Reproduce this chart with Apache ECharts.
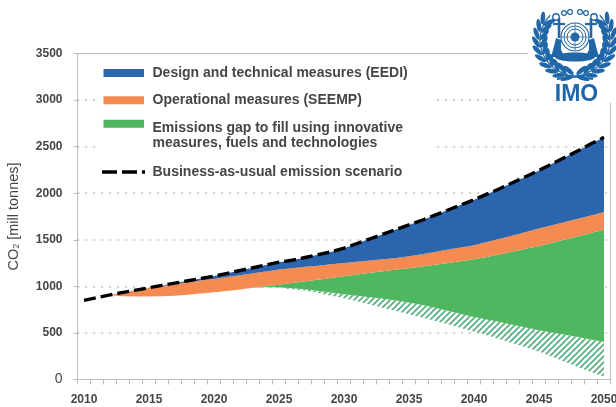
<!DOCTYPE html>
<html>
<head>
<meta charset="utf-8">
<style>html,body{margin:0;padding:0;background:#fff}#c{width:616px;height:407px}</style>
<script src="https://cdn.jsdelivr.net/npm/echarts@6/dist/echarts.min.js"></script>
</head>
<body>
<div id="c"></div>
<script>
const years = [];
for (let y = 2010; y <= 2050; y++) years.push(String(y));
const yTicks = [0, 500, 1000, 1500, 2000, 2500, 3000, 3500];

const bauTop = [850,880,908,935,960,985,1010,1035,1060,1085,1110,1140,1170,1200,1230,1260,1280,1310,1340,1370,1410,1460,1510,1560,1610,1660,1710,1765,1820,1875,1930,1990,2050,2115,2180,2245,2315,2385,2455,2530,2600];
const seempTop = [850,880,905,932,957,982,1005,1025,1045,1062,1080,1100,1120,1140,1160,1180,1195,1210,1222,1237,1252,1265,1277,1290,1305,1323,1345,1370,1395,1418,1442,1475,1510,1545,1583,1622,1656,1690,1725,1762,1798];
const gapTop = [850,880,905,895,890,890,893,900,910,922,937,950,967,985,1000,1016,1035,1055,1072,1090,1109,1127,1145,1163,1180,1195,1213,1232,1252,1270,1290,1316,1345,1375,1404,1434,1468,1502,1537,1573,1610];
const gapBottom = [850,880,905,895,890,890,893,900,910,922,937,950,967,985,990,990,980,968,950,933,915,898,882,866,848,826,800,770,737,704,672,644,616,587,558,530,505,480,455,430,404];
const hatchBottom = [850,880,905,895,890,890,893,900,910,922,937,950,967,985,990,985,970,955,930,900,872,840,805,770,735,700,665,630,592,553,515,475,433,390,345,300,245,190,135,80,30];

const legendDesign = 'Design and technical measures (EEDI)';
const legendOperational = 'Operational measures (SEEMP)';
const legendGap = 'Emissions gap to fill using innovative\nmeasures, fuels and technologies';
const legendBau = 'Business-as-usual emission scenario';

const BLUE = '#2a65ae', ORANGE = '#f68b52', GREEN = '#4eb75f', TEXT = '#454545', AXIS = '#bdbdbd', LOGO = '#1f67a9';
const FONT = '"Liberation Sans", Arial, sans-serif';

// hatch tile
const tile = document.createElement('canvas');
tile.width = 6; tile.height = 6;
const t = tile.getContext('2d');
t.strokeStyle = '#58ad7f'; t.lineWidth = 1.7;
[[-3,3,3,-3],[0,6,6,0],[3,9,9,3]].forEach(l => { t.beginPath(); t.moveTo(l[0],l[1]); t.lineTo(l[2],l[3]); t.stroke(); });

const diff = (a, b) => a.map((v, i) => v - b[i]);
function band(name, data, color) {
  return { name, type: 'line', stack: 'co2', data, symbol: 'none', silent: true,
    lineStyle: { width: 0 }, areaStyle: { color, opacity: 1 } };
}

// logo drawing
const logo = [];
const Z = 12;
const cx = 575, cy = 37;
const wy = 40;
[-1, 1].forEach(side => {
  for (let i = 0; i < 10; i++) {
    const deg = 102 + i * 12.5;
    const a = deg * Math.PI / 180;
    [[31, 120], [39, 60]].forEach(([r, dir]) => {
      const px = side < 0 ? cx + r * Math.cos(a) : cx - r * Math.cos(a);
      const py = wy + r * Math.sin(a);
      const d = (deg + dir) * Math.PI / 180;
      const rot = side < 0 ? -d : d;
      logo.push({ type: 'ellipse', z: Z, x: px, y: py, rotation: rot, shape: { cx: 0, cy: 0, rx: 6.5, ry: 2.3 }, style: { fill: LOGO } });
    });
  }
  logo.push({ type: 'arc', z: Z, shape: { cx, cy: wy, r: 35,
    startAngle: side < 0 ? 102 * Math.PI / 180 : -(45) * Math.PI / 180,
    endAngle: side < 0 ? 225 * Math.PI / 180 : 78 * Math.PI / 180 }, style: { stroke: LOGO, lineWidth: 1.2, fill: 'none' } });
});
// circle seal
logo.push({ type: 'circle', z: Z, shape: { cx, cy, r: 14 }, style: { fill: '#fff', stroke: LOGO, lineWidth: 1.2 } });
logo.push({ type: 'circle', z: Z, shape: { cx, cy, r: 11 }, style: { fill: 'none', stroke: LOGO, lineWidth: 1 } });
logo.push({ type: 'circle', z: Z, shape: { cx, cy, r: 8 }, style: { fill: 'none', stroke: LOGO, lineWidth: 1 } });
logo.push({ type: 'circle', z: Z, shape: { cx, cy, r: 4.5 }, style: { fill: LOGO } });
logo.push({ type: 'line', z: Z, shape: { x1: cx - 14, y1: cy, x2: cx + 14, y2: cy }, style: { stroke: LOGO, lineWidth: 0.7 } });
logo.push({ type: 'line', z: Z, shape: { x1: cx, y1: cy - 14, x2: cx, y2: cy + 14 }, style: { stroke: LOGO, lineWidth: 0.7 } });
// anchors
[-1, 1].forEach(s => {
  logo.push({ type: 'polygon', z: Z, shape: { points: [[cx+s*14,cy+3],[cx+s*19,cy+1],[cx+s*22,cy+13],[cx+s*24,cy+20],[cx+s*10,cy+20],[cx+s*14,cy+13]] }, style: { fill: LOGO } });
  logo.push({ type: 'line', z: Z, shape: { x1: cx+s*16, y1: cy-19, x2: cx+s*16, y2: cy+1 }, style: { stroke: LOGO, lineWidth: 2.6 } });
  logo.push({ type: 'line', z: Z, shape: { x1: cx+s*10, y1: cy-13, x2: cx+s*22, y2: cy-13 }, style: { stroke: LOGO, lineWidth: 2.2 } });
  logo.push({ type: 'circle', z: Z, shape: { cx: cx+s*19, cy: cy-20, r: 3.2 }, style: { fill: '#fff', stroke: LOGO, lineWidth: 1.4 } });
  logo.push({ type: 'circle', z: Z, shape: { cx: cx+s*11, cy: cy-24, r: 2.4 }, style: { fill: '#fff', stroke: LOGO, lineWidth: 1.2 } });
  logo.push({ type: 'circle', z: Z, shape: { cx: cx+s*5, cy: cy-25, r: 2.4 }, style: { fill: '#fff', stroke: LOGO, lineWidth: 1.2 } });
});
logo.push({ type: 'ellipse', z: Z, shape: { cx, cy: cy+20, rx: 20, ry: 4.5 }, style: { fill: LOGO } });
// ribbon
logo.push({ type: 'line', z: Z, shape: { x1: cx-18, y1: cy+42, x2: cx+18, y2: cy+37 }, style: { stroke: LOGO, lineWidth: 1.8 } });
logo.push({ type: 'line', z: Z, shape: { x1: cx-18, y1: cy+37, x2: cx+18, y2: cy+42 }, style: { stroke: LOGO, lineWidth: 1.8 } });

function swatch(y, fill) {
  return { type: 'rect', z: 5, shape: { x: 103.5, y, width: 40.5, height: 8 }, style: { fill } };
}
function ltext(y, text) {
  return { type: 'text', z: 6, x: 152.5, y, style: { text, fill: TEXT, font: 'bold 14px ' + FONT, lineHeight: 15, verticalAlign: 'top' } };
}

const chart = echarts.init(document.getElementById('c'), null, { renderer: 'canvas' });
chart.setOption({
  animation: false,
  backgroundColor: '#fff',
  grid: { left: 77.5, top: 53.5, width: 533, height: 326, show: true, outerBoundsMode: 'none', containLabel: false, borderColor: AXIS, borderWidth: 1, backgroundColor: 'transparent' },
  xAxis: {
    type: 'category', data: years, boundaryGap: true,
    axisLine: { lineStyle: { color: AXIS, width: 1 } },
    axisTick: { show: true, length: 5, interval: 0, alignWithLabel: false, lineStyle: { color: AXIS } },
    axisLabel: { interval: 4, margin: 14, color: TEXT, fontFamily: FONT, fontWeight: 'bold', fontSize: 12, hideOverlap: false, showMaxLabel: true },
    splitLine: { show: false }
  },
  yAxis: {
    type: 'value', min: 0, max: 3500, interval: 500,
    name: '{n|CO}{s|2}{n| [mill tonnes]}', nameLocation: 'middle', nameGap: 56, nameRotate: 90,
    nameTextStyle: { rich: {
      n: { fontFamily: FONT, fontSize: 14.5, color: TEXT },
      s: { fontFamily: FONT, fontSize: 9, color: TEXT, verticalAlign: 'bottom', padding: [5, 0, 0, 0] }
    } },
    axisLine: { show: true, lineStyle: { color: AXIS, width: 1 } },
    axisTick: { show: true, length: 4, lineStyle: { color: AXIS } },
    axisLabel: {
      margin: 15, color: TEXT, fontFamily: FONT, fontWeight: 'bold', fontSize: 12,
      formatter: v => v === yTicks[0] ? '{z|0}' : String(v),
      rich: { z: { fontFamily: FONT, fontWeight: 'normal', fontSize: 14, color: TEXT } }
    },
    splitLine: { show: true, showMinLine: false, showMaxLine: false, lineStyle: { color: '#b5b5b5', width: 1.6, type: [1.6, 6.4] } }
  },
  series: [
    { name: 'base', type: 'line', stack: 'co2', data: hatchBottom, symbol: 'none', silent: true, lineStyle: { width: 0 }, areaStyle: { opacity: 0 } },
    band('Hatched', diff(gapBottom, hatchBottom), { image: tile, repeat: 'repeat' }),
    band(legendGap, diff(gapTop, gapBottom), GREEN),
    band(legendOperational, diff(seempTop, gapTop), ORANGE),
    band(legendDesign, diff(bauTop, seempTop), BLUE),
    { name: legendBau, type: 'line', data: bauTop, symbol: 'none', z: 4, silent: true, lineStyle: { color: '#000', width: 3.4, type: [12, 5] } }
  ],
  graphic: { elements: [
    { type: 'rect', z: 1, shape: { x: 96, y: 56, width: 336, height: 130 }, style: { fill: '#fff' } },
    swatch(69, BLUE), ltext(65.5, legendDesign),
    swatch(96.3, ORANGE), ltext(92.5, legendOperational),
    swatch(119.7, GREEN), ltext(120.8, legendGap),
    { type: 'line', z: 5, shape: { x1: 102, y1: 172, x2: 145, y2: 172 }, style: { stroke: '#000', lineWidth: 3.4, lineDash: [15, 5] } },
    ltext(164.5, legendBau),
    { type: 'rect', z: 10, shape: { x: 528, y: 0, width: 88, height: 103 }, style: { fill: '#fff' } },
    ...logo,
    { type: 'text', z: 12, x: 576.5, y: 95, style: { text: 'IMO', fill: LOGO, font: 'bold 23px ' + FONT, textAlign: 'center', textVerticalAlign: 'middle' } }
  ] }
});
</script>
</body>
</html>
